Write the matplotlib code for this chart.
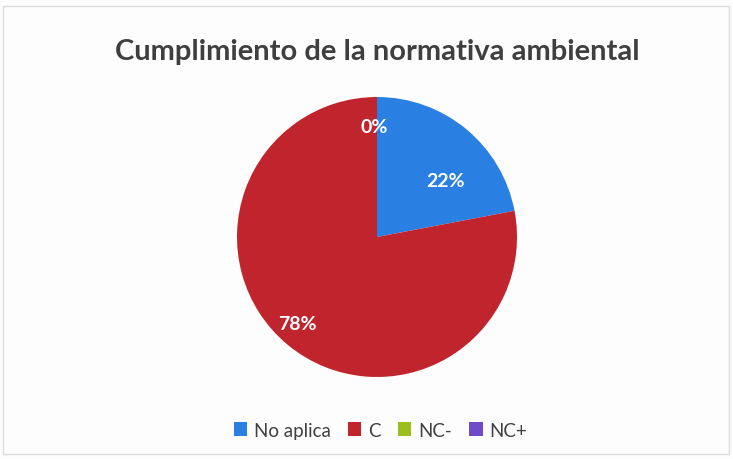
import matplotlib
matplotlib.use("Agg")
import matplotlib.pyplot as plt
from matplotlib.patches import Rectangle

# data
categories = ["No aplica", "C", "NC-", "NC+"]
values = [22, 78, 0, 0]
colors = ["#2a7fe2", "#c0252e", "#9cbf1e", "#6f4ac9"]

FONT = ["Lato", "DejaVu Sans"]

fig = plt.figure(figsize=(7.33, 4.6), dpi=100)
fig.patch.set_facecolor("#fdfdfd")
fig.patches.append(Rectangle((0.004, 0.01), 0.99, 0.975, transform=fig.transFigure,
                             fill=False, edgecolor="#dcdcdc", lw=1.0))

cx, cy = 377 / 733, 1 - 238 / 460
w, h = 280 / 733, 280 / 460
ax = fig.add_axes([cx - w / 2, cy - h / 2, w, h])

wedges, texts, autotexts = ax.pie(
    values, colors=colors, startangle=90, counterclock=False,
    autopct="%1.0f%%", pctdistance=0.8, radius=1.0,
    wedgeprops=dict(edgecolor="none"),
    textprops=dict(color="white", fontsize=14, fontweight="bold", family=FONT),
)
# Excel's best-fit label spots
autotexts[0].set_position((0.49, 0.40))
autotexts[1].set_position((-0.57, -0.62))
autotexts[2].set_position((-0.02, 0.79))
autotexts[3].set_visible(False)

ax.set_xlim(-1, 1)
ax.set_ylim(-1, 1)
ax.set_aspect("equal")
ax.axis("off")

fig.text(0.515, 0.888, "Cumplimiento de la normativa ambiental", ha="center", va="center",
         fontsize=21, fontweight="bold", color="#3f3f3f", family=FONT)

leg = fig.legend(wedges, categories, loc="center", bbox_to_anchor=(0.519, 0.063), ncol=4,
                 frameon=False, handlelength=0.7, handleheight=0.7, handletextpad=0.35,
                 columnspacing=0.95, prop=dict(family=FONT, size=13.5))
for t in leg.get_texts():
    t.set_color("#404040")

fig.savefig("out.png", dpi=100, facecolor=fig.get_facecolor())
